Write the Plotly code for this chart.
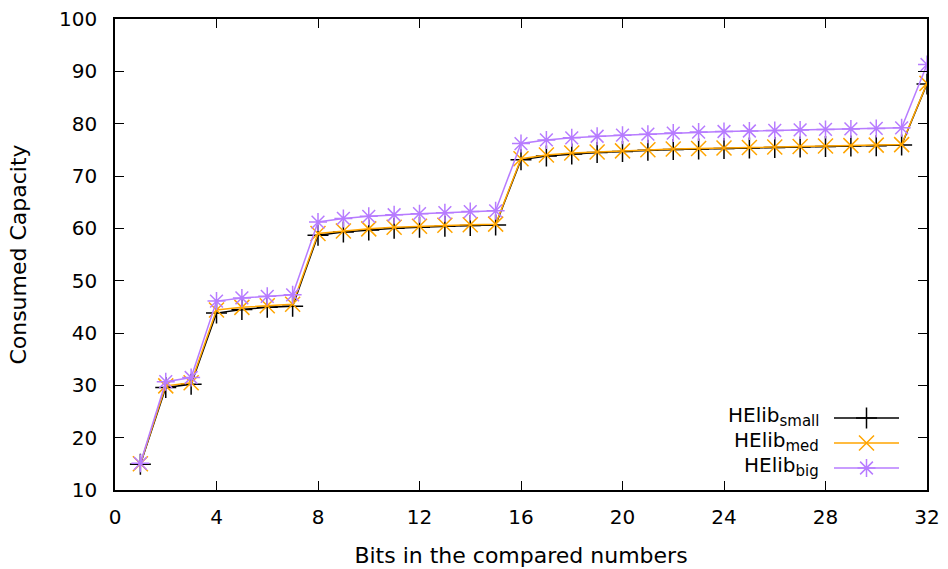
import plotly.graph_objects as go

bits = list(range(1, 33))
small = [14.9, 29.6, 30.2, 43.8, 44.5, 44.9, 45.1,
         58.7, 59.3, 59.7, 60.0, 60.2, 60.4, 60.55, 60.65,
         73.1, 73.8, 74.2, 74.5, 74.7, 74.9, 75.05, 75.15, 75.25, 75.35, 75.45, 75.55, 75.65, 75.72, 75.8, 75.9,
         87.6]
med = [15.0, 29.9, 30.5, 44.4, 44.9, 45.2, 45.5,
       59.0, 59.5, 59.9, 60.2, 60.4, 60.6, 60.7, 60.8,
       73.3, 74.0, 74.4, 74.6, 74.8, 75.0, 75.15, 75.25, 75.35, 75.45, 75.55, 75.65, 75.75, 75.8, 75.9, 76.0,
       87.7]
big = [15.1, 30.7, 31.5, 46.1, 46.7, 47.0, 47.3,
       61.2, 61.9, 62.3, 62.6, 62.8, 63.0, 63.2, 63.35,
       76.2, 76.9, 77.3, 77.6, 77.8, 78.0, 78.2, 78.4, 78.5, 78.6, 78.7, 78.8, 78.9, 79.0, 79.1, 79.2,
       91.3]

series_names = ["HElib<sub><span style='font-size:15px'>small</span></sub>",
                "HElib<sub><span style='font-size:15px'>med</span></sub>",
                "HElib<sub><span style='font-size:15px'>big</span></sub>"]
series_vals = [small, med, big]
colors = ["#000000", "#FFA500", "#B77CFF"]
symbols = ["cross-thin", "x-thin", "asterisk"]
xticks = [0, 4, 8, 12, 16, 20, 24, 28, 32]
yticks = [10, 20, 30, 40, 50, 60, 70, 80, 90, 100]

FONT = "DejaVu Sans"
L, R, T, B = 115, 927, 19, 490
fig = go.Figure()
for name, vals, c, s in zip(series_names, series_vals, colors, symbols):
    fig.add_trace(go.Scatter(
        x=bits, y=vals, mode="lines+markers", name=name,
        line=dict(color=c, width=1.5),
        marker=dict(symbol=s, size=15, color=c, line=dict(color=c, width=1.5)),
        showlegend=False))

# custom gnuplot-style key (pixel coordinates on an overlay axis)
rows = [418, 443, 468]
for name, c, s, yr in zip(series_names, colors, symbols, rows):
    fig.add_trace(go.Scatter(
        x=[834, 899], y=[yr, yr], mode="lines", xaxis="x2", yaxis="y2",
        line=dict(color=c, width=1.5), showlegend=False, hoverinfo="skip"))
    fig.add_trace(go.Scatter(
        x=[866.5], y=[yr], mode="markers", xaxis="x2", yaxis="y2",
        marker=dict(symbol=s, size=15, color=c, line=dict(color=c, width=1.5)),
        showlegend=False, hoverinfo="skip"))
    fig.add_annotation(x=821, y=yr - 2, xref="x2", yref="y2", text=name,
                       xanchor="right", yanchor="middle", showarrow=False,
                       font=dict(family=FONT, size=20, color="black"))

fig.update_layout(
    width=948, height=569,
    margin=dict(l=L, r=948 - R, t=T, b=569 - B),
    paper_bgcolor="white", plot_bgcolor="white",
    font=dict(family=FONT, size=18, color="black"),
    xaxis=dict(range=[0, 32], tickvals=xticks, ticks="inside", ticklen=9,
               tickwidth=1, tickcolor="black", showgrid=False, zeroline=False,
               showline=True, linecolor="black", linewidth=1.5, mirror="allticks",
               ticklabelstandoff=8, automargin=False,
               title=dict(text="Bits in the compared numbers", standoff=20),
               tickfont=dict(family=FONT, size=20)),
    yaxis=dict(range=[10, 100], tickvals=yticks, ticks="inside", ticklen=9,
               tickwidth=1, tickcolor="black", showgrid=False, zeroline=False,
               showline=True, linecolor="black", linewidth=1.5, mirror="allticks",
               ticklabelstandoff=12, automargin=False,
               title=dict(text="Consumed Capacity", standoff=26),
               tickfont=dict(family=FONT, size=20)),
    xaxis2=dict(overlaying="x", range=[L, R], visible=False, fixedrange=True),
    yaxis2=dict(overlaying="y", range=[B, T], visible=False, fixedrange=True),
)

fig.write_html("out.html")
